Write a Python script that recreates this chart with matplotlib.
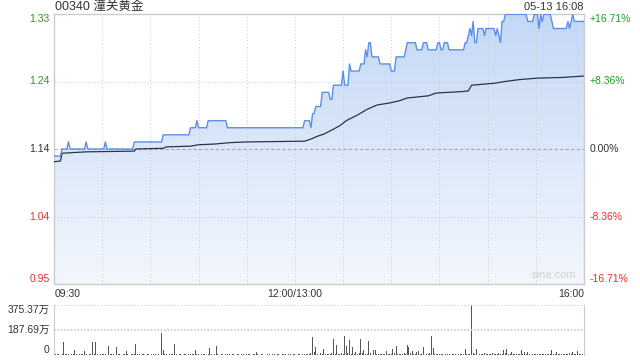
import numpy as np
import matplotlib.pyplot as plt
from matplotlib.colors import LinearSegmentedColormap
from matplotlib.patches import Polygon
from matplotlib.transforms import blended_transform_factory

plt.rcParams['font.family'] = ['Liberation Sans', 'Noto Sans CJK SC', 'DejaVu Sans']

title = '00340 潼关黄金'
stamp = '05-13 16:08'
prev_close = 1.14
limit_pct = 16.71
n_min = 330  # 09:30-12:00 + 13:00-16:00

# price: minute where a new level starts, and the level
price_t = [0, 5, 9, 10, 20, 21, 32, 33, 50, 68, 85, 89, 90, 96, 108,
           156, 160, 161, 163, 167, 172, 174, 180, 181, 184, 185, 191, 194, 195, 196,
           198, 203, 210, 213, 219, 220, 226, 230, 233, 239, 241, 243, 246, 256, 258,
           259, 260, 261, 262, 264, 268, 269, 275, 276, 277, 278, 279, 281, 295, 299,
           302, 303, 304, 305, 310, 311, 320, 321, 322, 323, 324]
price_v = [1.13, 1.14, 1.15, 1.14, 1.15, 1.14, 1.15, 1.14, 1.15, 1.16, 1.17, 1.18, 1.17, 1.18, 1.17,
           1.18, 1.17, 1.19, 1.20, 1.22, 1.21, 1.23, 1.25, 1.23, 1.26, 1.25, 1.26, 1.28, 1.27, 1.29,
           1.27, 1.26, 1.25, 1.27, 1.28, 1.29, 1.28, 1.29, 1.28, 1.29, 1.28, 1.29, 1.28, 1.29, 1.30,
           1.31, 1.30, 1.32, 1.29, 1.31, 1.30, 1.31, 1.30, 1.31, 1.30, 1.29, 1.32, 1.33, 1.32, 1.33,
           1.31, 1.33, 1.32, 1.33, 1.32, 1.31, 1.32, 1.31, 1.32, 1.33, 1.32]

# average price line
avg_t = [0, 4, 5, 20, 50, 51, 68, 70, 85, 90, 100, 110, 120, 156, 160, 164, 168, 174, 178,
         182, 189, 195, 201, 209, 215, 220, 233, 238, 254, 258, 260, 275, 280, 290, 301, 317, 330]
avg_v = [1.122, 1.123, 1.134, 1.136, 1.137, 1.140, 1.141, 1.143, 1.144, 1.146, 1.147, 1.149,
         1.150, 1.151, 1.154, 1.158, 1.161, 1.168, 1.173, 1.180, 1.188, 1.196, 1.202, 1.205,
         1.208, 1.212, 1.215, 1.219, 1.221, 1.222, 1.230, 1.233, 1.235, 1.238, 1.240, 1.241, 1.243]

# volume per minute, in 万 shares
volume = [
    55, 8, 4, 6, 3, 5, 100, 6, 4, 8, 3, 5, 4, 39, 6, 3, 5, 8, 4, 31, 6, 3, 5, 4, 95, 10, 95, 5, 3, 6,
    4, 6, 8, 3, 70, 5, 4, 6, 3, 60, 5, 4, 3, 6, 4, 31, 5, 3, 4, 6, 8, 85, 5, 4, 3, 5, 4, 3, 6, 4,
    3, 5, 4, 6, 3, 4, 5, 165, 39, 6, 4, 3, 5, 4, 6, 80, 5, 3, 4, 6, 3, 5, 4, 3, 6, 8, 4, 5, 39, 6,
    4, 3, 5, 4, 6, 3, 8, 55, 5, 4, 6, 65, 4, 3, 5, 4, 3, 6, 8, 4, 3, 5, 4, 3, 6, 4, 3, 5, 4, 3,
    5, 4, 6, 3, 4, 8, 25, 4, 3, 5, 4, 3, 6, 4, 5, 3, 4, 6, 3, 5, 4, 3, 5, 4, 6, 3, 4, 5, 3, 4,
    6, 3, 4, 5, 3, 4, 10, 6, 5, 8, 12, 135, 20, 60, 8, 5, 12, 6, 43, 8, 5, 10, 6, 12, 118, 10, 75, 8, 6, 14,
    10, 143, 68, 12, 113, 10, 58, 8, 25, 10, 14, 120, 12, 38, 10, 8, 105, 12, 8, 38, 38, 10, 6, 8, 5, 6, 8, 30, 6, 10,
    8, 45, 12, 68, 6, 5, 8, 6, 12, 10, 75, 60, 12, 30, 8, 10, 25, 30, 8, 10, 60, 8, 6, 5, 18, 143, 55, 6, 5, 4,
    6, 5, 4, 3, 5, 4, 6, 3, 5, 4, 6, 3, 5, 4, 8, 6, 45, 5, 8, 10, 375.37, 12, 8, 43, 30, 10, 8, 6, 12, 5,
    8, 4, 6, 12, 5, 8, 6, 18, 10, 6, 38, 12, 45, 8, 6, 25, 5, 10, 8, 6, 5, 38, 8, 20, 6, 20, 5, 8, 4, 6,
    5, 8, 6, 4, 8, 5, 6, 10, 4, 6, 38, 8, 5, 20, 6, 4, 8, 5, 6, 10, 8, 18, 6, 25, 8, 5, 30, 6, 4, 8,
    10,
]
vol_max = 375.37

GREEN = '#1f9f1f'
RED = '#ee2b2b'
TEXT = '#333333'
BORDER = '#cccccc'

minutes = np.arange(n_min + 1)
runs = np.diff(price_t + [n_min + 1])
price = np.repeat(price_v, runs)

ylo = prev_close * (1 - limit_pct / 100)
yhi = prev_close * (1 + limit_pct / 100)
half = prev_close * limit_pct / 200

fig = plt.figure(figsize=(6.4, 3.6), dpi=100)
ax = fig.add_axes([54 / 640, 1 - 284 / 360, 530 / 640, 270 / 360])
axv = fig.add_axes([54 / 640, 1 - 355 / 360, 530 / 640, 50 / 360])

# gradient fill under the price line
cmap = LinearSegmentedColormap.from_list('fill', ['#f3f7fd', '#c4d8f6'])
grad = np.linspace(0, 1, 256).reshape(-1, 1)
im = ax.imshow(grad, extent=[0, n_min, ylo, yhi], origin='lower', aspect='auto',
               cmap=cmap, zorder=1)
poly = Polygon(np.column_stack([np.r_[0, minutes, n_min], np.r_[ylo, price, ylo]]),
               closed=True, facecolor='none', edgecolor='none', transform=ax.transData)
ax.add_patch(poly)
im.set_clip_path(poly)

# grid
for t in range(30, n_min, 30):
    ax.axvline(t, color='#d2d2d2', lw=0.8, ls=(0, (1, 2)), zorder=2)
for v in (prev_close + half, prev_close - half):
    ax.axhline(v, color='#d2d2d2', lw=0.8, ls=(0, (1, 2)), zorder=2)
ax.axhline(prev_close, color='#aaaaaa', lw=0.8, ls=(0, (3, 2)), zorder=2)

ax.plot(minutes, price, color='#5b8fe8', lw=1.0, zorder=4)
ax.plot(avg_t, avg_v, color='#2d3644', lw=0.9, zorder=3)

ax.set_xlim(0, n_min)
ax.set_ylim(ylo, yhi)
ax.set_xticks([])
ax.set_yticks([])
for s in ax.spines.values():
    s.set_color(BORDER)
    s.set_linewidth(1)

# price labels on both sides
tr = blended_transform_factory(ax.transAxes, ax.transData)
levels = [yhi, prev_close + half, prev_close, prev_close - half, ylo]
left_labels = ['1.33', '1.24', '1.14', '1.04', '0.95']
right_labels = ['+16.71%', '+8.36%', '0.00%', '-8.36%', '-16.71%']
colors = [GREEN, GREEN, TEXT, RED, RED]
valign = ['top', 'center', 'center', 'center', 'bottom']
for lv, ll, rl, c, va in zip(levels, left_labels, right_labels, colors, valign):
    ax.text(-0.008, lv, ll, transform=tr, ha='right', va=va, color=c, fontsize=7.5)
    ax.text(1.01, lv, rl, transform=tr, ha='left', va=va, color=c, fontsize=7.5)

# time labels
trx = blended_transform_factory(ax.transData, ax.transAxes)
ax.text(0.5, -0.018, '09:30', transform=trx, ha='left', va='top', color=TEXT, fontsize=7.5)
ax.text(150, -0.018, '12:00/13:00', transform=trx, ha='center', va='top', color=TEXT, fontsize=7.5)
ax.text(n_min, -0.018, '16:00', transform=trx, ha='right', va='top', color=TEXT, fontsize=7.5)

ax.text(0.985, 0.015, 'sina.com', transform=ax.transAxes, ha='right', va='bottom',
        color='#d0d0d0', fontsize=8)

fig.text(55 / 640, 1 - 7 / 360, title, ha='left', va='center', color=TEXT, fontsize=9)
fig.text(584 / 640, 1 - 7 / 360, stamp, ha='right', va='center', color=TEXT, fontsize=8)

# volume panel
axv.bar(minutes, volume, width=0.6, color='#555555', linewidth=0)
axv.set_xlim(0, n_min)
axv.set_ylim(0, vol_max)
axv.axhline(vol_max, color=BORDER, lw=1.2, ls=(0, (1, 1)))
axv.axhline(vol_max / 2, color=BORDER, lw=1.2, ls=(0, (1, 1)))
axv.set_xticks([])
axv.set_yticks([])
for side in ('top', 'bottom'):
    axv.spines[side].set_visible(False)
for side in ('left', 'right'):
    axv.spines[side].set_color(BORDER)
trv = blended_transform_factory(axv.transAxes, axv.transData)
vol_labels = ['375.37万', '187.69万', '0']
for lv, lab, va in zip([vol_max, vol_max / 2, 0], vol_labels, ['top', 'center', 'bottom']):
    axv.text(-0.008, lv, lab, transform=trv, ha='right', va=va, color=TEXT, fontsize=7.5)

fig.savefig('out.png', dpi=100)
